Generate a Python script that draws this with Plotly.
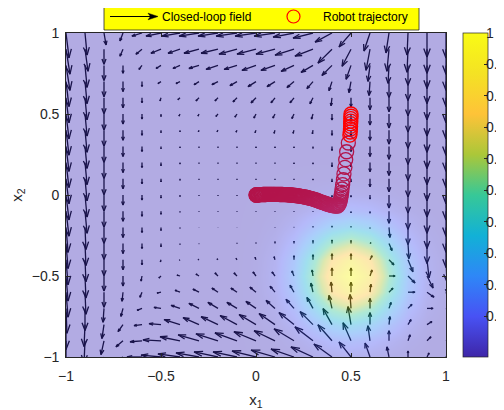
import numpy as np
import plotly.graph_objects as go

# ---------------- data ----------------
grid = [-1.0, -0.9, -0.8, -0.7, -0.6, -0.5, -0.4, -0.3, -0.2, -0.1, 0.0,
        0.1, 0.2, 0.3, 0.4, 0.5, 0.6, 0.7, 0.8, 0.9, 1.0]

# closed-loop field, rows from y=1.0 (top) down to y=-1.0, columns x=-1..1
# (values in hundredths of a data unit, as drawn by the quiver)
U_rows = [
    [1.6, 1.1, 1.1, -1.6, -5.3, -7.9, -9.5, -10.5, -10.5, -11, -11, -11, -11, -10.5, -8.9, -6.3, -3.2, -1.6, -0.5, 0, 0],
    [2.1, 1.6, 0, -1.6, -3.2, -5.3, -6.3, -7.9, -8.9, -9.5, -10, -10, -10, -9.5, -7.4, -4.7, -2.1, -1.1, -0.5, 0, 0],
    [2.1, 1.1, 0, 0, -1.6, -2.6, -3.7, -5.3, -6.3, -6.8, -7.4, -7.4, -6.8, -6.3, -5.3, -2.6, -1.1, -0.5, 0, 0, 0],
    [1.6, 1.1, 0, 0, 0, -1.6, -2.1, -2.6, -3.2, -3.7, -4.2, -4.2, -3.7, -3.2, -1.6, -1.1, -0.5, 0, 0, 0, 0],
    [1.6, 1.1, 0, 0, 0, -0.5, -1.1, -1.6, -1.6, -2.1, -2.6, -2.1, -2.1, -1.6, -0.5, 0, 0, 0, 0, 0, 0],
    [1.6, 1.1, 0, 0, 0, 0, -0.5, -0.5, -1.1, -1.1, -1.1, -1.1, -1.1, -0.8, 0, 0, 0, 0, 0, 0, 0],
    [1.6, 1.1, 0, 0, 0, 0, 0, -0.3, -0.5, -0.5, -0.5, -0.5, -0.5, -0.3, 0, 0, 0, 0, 0, 0, 0],
    [1.6, 1.1, 0, 0, 0, 0, 0, 0, 0, 0, 0, 0, 0, 0, 0, 0, 0, 0, 0, 0, 0],
    [1.6, 1.1, 0, 0, 0, 0, 0, 0, 0, 0, 0, 0, 0, 0, 0, 0, 0, 0, 0, 0, 0],
    [1.6, 1.1, 0, 0, 0, 0, 0, 0, 0, 0, 0, 0, 0, 0, 0, 0, 0, 0, 0, 0, 0],
    [1.6, 1.1, 0, 0, 0, 0, 0, 0, 0, 0, 0, 0, 0, 0, 0, 0, 0, 0, 0, 0, 0],
    [1.6, 1.1, 0, 0, 0, 0, 0, 0, 0, 0, 0, 0, 0, 0, 0, 0, 0, 0, 0, 0, 0],
    [1.1, 0.5, 0, 0, 0, 0, 0, 0, 0, 0, 0, 0, 0, 0, 0, 0, 0, 0.5, 0, 0, 0],
    [1.1, 0.5, 0, 0, 0, 0, 0, 0, 0, 0, 0, 0, 0, 0, 0, 0, 0.5, 1.6, 0.5, 0, 0],
    [1.1, 0.5, 0, 0, 0, -0.3, -0.3, -0.5, -0.5, -0.5, -0.5, -0.5, 0, 0, 0, 0, 1.1, 2.6, 2.6, 1.1, 0.5],
    [1.1, 0.5, 0, 0, -0.5, -1.1, -1.6, -1.6, -1.6, -1.6, -1.6, -1.6, -1.1, -0.5, 0, 0, 1.1, 3.2, 3.7, 3.2, 1.6],
    [1.1, 0.5, 0, -0.5, -1.1, -2.1, -2.6, -3.2, -3.2, -3.2, -3.2, -2.6, -2.1, -1.1, -0.5, 0, 0.5, 2.1, 3.7, 3.7, 2.6],
    [0.5, 0, -0.5, -1.1, -2.6, -3.7, -4.7, -5.3, -5.3, -5.3, -5.3, -4.7, -4.2, -3.2, -1.6, -0.5, 0, 1.1, 2.1, 3.2, 2.6],
    [0, -0.5, -1.1, -2.6, -4.2, -6.3, -8.4, -8.4, -8.9, -8.9, -8.9, -8.4, -7.9, -6.8, -4.7, -1.6, 0, 0.5, 1.6, 2.6, 2.1],
    [0, -0.5, -1.6, -3.7, -6.3, -9.5, -10.5, -11, -11.6, -11.6, -11.6, -11, -10.5, -9.5, -7.4, -4.2, -1.1, 0, 1.1, 2.1, 1.6],
    [0, -1.1, -2.6, -5.3, -7.9, -10.5, -11.6, -12.1, -12.6, -12.6, -12.6, -12.6, -12.1, -11.6, -9.5, -6.3, -2.6, -1.1, 0, 1.1, 1.1],
]
V_rows = [
    [-15.4, -13.6, -7.4, -4.9, -1.9, -1.9, -1.9, -1.9, -1.9, -1.9, -1.9, -1.9, -2.5, -3.1, -5.6, -8.6, -11.1, -12.3, -13.6, -14.8, -15.4],
    [-15.4, -13.6, -9.3, -4.3, -3.1, -2.5, -2.5, -2.5, -2.5, -3.1, -3.1, -3.1, -3.7, -4.3, -8.6, -10.5, -13, -13.6, -14.2, -14.8, -15.4],
    [-15.4, -13.6, -9.3, -4.9, -2.5, -1.9, -1.9, -1.9, -2.5, -2.5, -3.1, -3.1, -3.7, -4.3, -6.2, -8.6, -9.9, -11.1, -12.3, -14.2, -15.4],
    [-15.4, -13.6, -9.3, -6.2, -3.1, -1.2, -1.2, -1.9, -1.9, -2.5, -3.1, -3.1, -3.7, -4.3, -5.6, -6.8, -8.6, -9.9, -11.7, -13.6, -15.4],
    [-15.4, -13.6, -9.9, -6.2, -3.1, -1.9, -1.2, -1.9, -1.9, -2.5, -3.1, -3.1, -3.1, -3.7, -4.9, -5.6, -7.4, -8.6, -11.1, -13.6, -15.4],
    [-15.4, -13.6, -9.9, -6.2, -3.1, -1.5, -1.2, -1.2, -1.5, -1.9, -2.5, -2.5, -2.8, -3.1, -3.7, -4.3, -6.8, -8.6, -11.1, -13.6, -15.4],
    [-15.4, -13.6, -9.9, -6.2, -3.1, -1.5, -0.9, -0.9, -0.9, -1.2, -1.5, -1.9, -1.9, -2.2, -3.1, -3.7, -6.2, -8.6, -11.1, -13.6, -15.4],
    [-15.4, -13.6, -9.9, -6.2, -3.1, -1.5, -0.9, -0.7, -0.7, -0.7, -0.9, -0.9, -0.9, -1.2, -2.5, -3.1, -6.2, -8.0, -11.1, -13.6, -15.4],
    [-15.4, -13.6, -9.9, -6.2, -3.1, -1.9, -0.9, -0.6, -0.6, -0.6, -0.6, -0.6, -0.7, -0.9, -2.5, -2.5, -5.6, -8.0, -11.1, -13.6, -15.4],
    [-15.4, -13.6, -9.9, -6.2, -3.1, -1.9, -0.9, -0.6, -0.6, -0.6, -0.6, -0.6, -0.6, -0.7, -1.9, -1.9, -4.9, -8.0, -11.1, -13.6, -15.4],
    [-15.4, -13.6, -9.9, -6.2, -3.1, -1.9, -0.9, -0.5, -0.5, -0.5, -0.5, -0.5, -0.5, -0.6, -1.2, -1.2, -2.5, -8.0, -11.1, -13.6, -15.4],
    [-15.4, -13.6, -9.9, -6.2, -3.1, -1.9, -0.7, -0.4, -0.4, -0.4, -0.4, -0.4, -0.3, -0.3, -0.9, -0.9, -1.2, -7.4, -11.1, -13.6, -15.4],
    [-15.4, -13.6, -9.9, -6.2, -3.1, -1.9, -0.6, -0.2, -0.2, -0.2, 0, 0.2, 0.3, 0.6, 0.9, 0.6, -0.6, -6.2, -10.5, -13.0, -15.4],
    [-15.4, -13.6, -9.9, -6.2, -3.1, -1.9, -0.6, -0.3, 0, 0.3, 0.6, 1.2, 1.5, 1.9, 2.2, 1.9, 0.6, -4.3, -9.3, -12.3, -14.8],
    [-15.4, -13.6, -9.9, -6.2, -3.1, -1.2, -0.3, 0.3, 0.6, 0.9, 1.5, 1.9, 2.5, 3.1, 3.7, 3.7, 2.5, -3.1, -7.4, -11.1, -13.6],
    [-15.4, -13.6, -9.3, -6.2, -3.1, -1.2, 0.6, 1.2, 1.9, 1.9, 2.5, 2.5, 3.1, 3.7, 4.9, 4.9, 3.7, 0, -4.3, -7.4, -12.3],
    [-15.4, -13.6, -9.3, -5.6, -3.1, -0.6, 1.2, 1.9, 2.5, 2.5, 3.1, 3.7, 4.3, 5.6, 6.2, 6.2, 4.9, 2.5, 0, -3.1, -7.4],
    [-15.4, -13.6, -8.6, -4.9, -1.2, 0.6, 1.9, 3.1, 3.7, 3.7, 4.3, 4.9, 5.6, 6.8, 8.0, 8.6, 6.2, 3.7, 2.5, 0, -3.1],
    [-15.4, -13.6, -8.6, -4.3, -0.6, 0.6, 3.1, 4.3, 4.9, 5.6, 6.2, 6.8, 7.4, 8.0, 9.9, 11.1, 7.4, 4.9, 3.1, 1.9, 0],
    [-15.4, -13.6, -8.6, -3.7, -0.6, 0.6, 2.5, 3.7, 4.3, 4.9, 5.6, 6.2, 7.4, 8.6, 9.9, 11.1, 9.3, 6.2, 3.7, 2.5, 1.2],
    [-15.4, -13.6, -8.0, -3.1, 0, 1.2, 1.9, 2.5, 3.1, 3.1, 3.7, 4.3, 4.9, 6.2, 8.0, 9.3, 8.6, 6.2, 3.7, 2.5, 1.9],
]

# cost map (peak near (0.5,-0.5)); columns x = 0.0..1.0, rows y = -1.0..0.1
blob_x = [0.0, 0.1, 0.2, 0.3, 0.4, 0.5, 0.6, 0.7, 0.8, 0.9, 1.0]
blob_y = [-1.0, -0.9, -0.8, -0.7, -0.6, -0.5, -0.4, -0.3, -0.2, -0.1, 0.0, 0.1]
blob_z = [
    [0.001, 0.003, 0.009, 0.022, 0.037, 0.044, 0.037, 0.022, 0.009, 0.003, 0.001],
    [0.002, 0.009, 0.028, 0.068, 0.114, 0.135, 0.114, 0.068, 0.028, 0.009, 0.002],
    [0.004, 0.020, 0.069, 0.163, 0.273, 0.325, 0.273, 0.163, 0.069, 0.020, 0.004],
    [0.008, 0.038, 0.128, 0.304, 0.510, 0.607, 0.510, 0.304, 0.128, 0.038, 0.008],
    [0.011, 0.056, 0.186, 0.441, 0.742, 0.882, 0.742, 0.441, 0.186, 0.056, 0.011],
    [0.013, 0.063, 0.211, 0.500, 0.841, 1.000, 0.841, 0.500, 0.211, 0.063, 0.013],
    [0.011, 0.056, 0.186, 0.441, 0.742, 0.882, 0.742, 0.441, 0.186, 0.056, 0.011],
    [0.008, 0.038, 0.128, 0.304, 0.510, 0.607, 0.510, 0.304, 0.128, 0.038, 0.008],
    [0.004, 0.020, 0.069, 0.163, 0.273, 0.325, 0.273, 0.163, 0.069, 0.020, 0.004],
    [0.002, 0.009, 0.028, 0.068, 0.114, 0.135, 0.114, 0.068, 0.028, 0.009, 0.002],
    [0.001, 0.003, 0.009, 0.022, 0.037, 0.044, 0.037, 0.022, 0.009, 0.003, 0.001],
    [0.000, 0.001, 0.002, 0.006, 0.009, 0.011, 0.009, 0.006, 0.002, 0.001, 0.000],
]
z_limits = [-0.03, 1.0]

# robot trajectory (start at (0.5, 0.5), converging to the origin)
traj_x = [0.500, 0.500, 0.499, 0.499, 0.498, 0.498, 0.497, 0.496, 0.494,
          0.486, 0.477, 0.472, 0.468, 0.463, 0.460, 0.456, 0.453, 0.451,
          0.449, 0.447, 0.445, 0.443, 0.440, 0.437, 0.434,
          0.430, 0.424, 0.418, 0.412, 0.406, 0.400, 0.394, 0.388, 0.382, 0.376,
          0.370, 0.364, 0.358, 0.352, 0.346, 0.340, 0.334, 0.328, 0.322, 0.316,
          0.310, 0.304, 0.298, 0.292, 0.286, 0.280, 0.274, 0.268, 0.262, 0.256,
          0.250, 0.245, 0.240, 0.235, 0.230, 0.225, 0.220, 0.215, 0.210, 0.205,
          0.200, 0.195, 0.190, 0.185, 0.180, 0.175, 0.170, 0.165, 0.160, 0.155,
          0.150, 0.145, 0.140, 0.135, 0.130, 0.125, 0.120, 0.115, 0.110, 0.105,
          0.100, 0.096, 0.092, 0.088, 0.084, 0.080, 0.076, 0.072, 0.068, 0.064,
          0.060, 0.056, 0.052, 0.048, 0.044, 0.040, 0.036, 0.032, 0.028, 0.024,
          0.020, 0.016, 0.012, 0.009, 0.006, 0.004, 0.002, 0.001, 0.000]
traj_y = [0.500, 0.486, 0.471, 0.456, 0.440, 0.424, 0.407, 0.389, 0.370,
          0.321, 0.267, 0.218, 0.171, 0.130, 0.094, 0.064, 0.037, 0.017,
          0.002, -0.012, -0.025, -0.037, -0.048, -0.058, -0.064,
          -0.068, -0.068, -0.068, -0.067, -0.066, -0.065, -0.063, -0.061, -0.059, -0.056,
          -0.054, -0.052, -0.049, -0.047, -0.044, -0.042, -0.039, -0.036, -0.034, -0.031,
          -0.029, -0.027, -0.024, -0.022, -0.021, -0.019, -0.017, -0.015, -0.014, -0.012,
          -0.011, -0.010, -0.009, -0.008, -0.007, -0.006, -0.005, -0.004, -0.003, -0.003,
          -0.002, -0.001, -0.001, 0.000, 0.000, 0.001, 0.001, 0.001, 0.002, 0.002,
          0.002, 0.002, 0.003, 0.003, 0.003, 0.003, 0.004, 0.004, 0.004, 0.004,
          0.004, 0.004, 0.004, 0.004, 0.004, 0.004, 0.004, 0.004, 0.004, 0.004,
          0.004, 0.004, 0.003, 0.003, 0.003, 0.003, 0.003, 0.002, 0.002, 0.002,
          0.002, 0.001, 0.001, 0.001, 0.000, 0.000, 0.000, 0.000, 0.000]
assert len(traj_x) == len(traj_y)
N_FRONT = 9  # first samples drawn in front of the cost surface

axis_ticks = [-1, -0.5, 0, 0.5, 1]
cbar_ticks = [0.1, 0.2, 0.3, 0.4, 0.5, 0.6, 0.7, 0.8, 0.9, 1.0]
cbar_labels = ["0.1", "0.2", "0.3", "0.4", "0.5", "0.6", "0.7", "0.8", "0.9", "1"]

parula = [[0.000, "#3E26A8"], [0.125, "#4852F4"], [0.250, "#2E87F7"],
          [0.375, "#12B1D6"], [0.500, "#37C897"], [0.625, "#ABC739"],
          [0.750, "#FEC338"], [0.875, "#F4E224"], [1.000, "#F9FB15"]]

# ---------------- build ----------------
gx = np.array(grid)
X, Y = np.meshgrid(gx, gx)
U = np.array(U_rows[::-1]) * 0.01
V = np.array(V_rows[::-1]) * 0.01

ALPHA, BETA = 0.35, 0.33
qx, qy = [], []
for x0, y0, u, v in zip(X.ravel(), Y.ravel(), U.ravel(), V.ravel()):
    if abs(u) + abs(v) < 1e-9:
        continue
    x1, y1 = x0 + u, y0 + v
    qx += [x0, x1, None, x1 - ALPHA * (u + BETA * v), x1, x1 - ALPHA * (u - BETA * v), None]
    qy += [y0, y1, None, y1 - ALPHA * (v - BETA * u), y1, y1 - ALPHA * (v + BETA * u), None]

Z = np.zeros((len(grid), len(grid)))
ix0 = grid.index(blob_x[0])
for r, yv in enumerate(blob_y):
    iy = int(round((yv + 1.0) * 10))
    Z[iy, ix0:ix0 + len(blob_x)] = blob_z[r]

FONT = "Liberation Sans, Arial, Helvetica, sans-serif"
AX = "#262626"

fig = go.Figure()
fig.add_trace(go.Scatter(x=qx, y=qy, mode="lines", line=dict(color="black", width=1.3),
                         hoverinfo="skip", showlegend=False, xaxis="x", yaxis="y",
                         name="Closed-loop field"))
fig.add_trace(go.Scatter(x=traj_x[N_FRONT:], y=traj_y[N_FRONT:], mode="markers",
                         marker=dict(symbol="circle-open", size=14, color="red",
                                     line=dict(width=1.3)),
                         showlegend=False, xaxis="x", yaxis="y", name="Robot trajectory"))
fig.add_trace(go.Heatmap(x=grid, y=grid, z=Z, colorscale=parula,
                         zmin=z_limits[0], zmax=z_limits[1],
                         zsmooth="best", opacity=0.4, xaxis="x2", yaxis="y2",
                         hoverinfo="skip",
                         colorbar=dict(x=1.0447, xanchor="left", y=0.5, yanchor="middle",
                                       len=1, lenmode="fraction", thickness=25,
                                       thicknessmode="pixels", xpad=0, ypad=0,
                                       outlinewidth=0.7, outlinecolor=AX,
                                       tickvals=cbar_ticks, showticklabels=False,
                                       ticks="inside", ticklen=4, tickcolor=AX)))
fig.add_trace(go.Scatter(x=traj_x[:N_FRONT], y=traj_y[:N_FRONT], mode="markers",
                         marker=dict(symbol="circle-open", size=14, color="red",
                                     line=dict(width=1.3)),
                         showlegend=False, xaxis="x2", yaxis="y2", name="Robot trajectory"))

axis_common = dict(range=[-1, 1], tickvals=axis_ticks, ticks="inside", ticklen=4,
                   tickcolor=AX, showline=True, linecolor=AX, linewidth=0.7,
                   mirror="ticks", showgrid=False, zeroline=False,
                   tickfont=dict(family=FONT, size=14, color=AX))
# the page body adds an 8 px offset, so the figure is 8 px smaller than the window
fig.update_layout(
    width=496, height=402,
    margin=dict(l=58, r=58, t=25, b=53, autoexpand=False),
    paper_bgcolor="white", plot_bgcolor="white",
    showlegend=False,
    xaxis=dict(**axis_common, ticklabelstandoff=6,
               title=dict(text="x<sub>1</sub>", standoff=11,
                          font=dict(family=FONT, size=15, color=AX))),
    yaxis=dict(**axis_common, ticklabelstandoff=3,
               title=dict(text="x<sub>2</sub>", standoff=14,
                          font=dict(family=FONT, size=15, color=AX))),
    xaxis2=dict(range=[-1, 1], overlaying="x", visible=False),
    yaxis2=dict(range=[-1, 1], overlaying="y", visible=False),
)

# positions given in window pixels -> paper fractions
def px_x(p):
    return (p - 66) / 380.0

def px_y(p):
    return (357 - p) / 324.0

# colorbar tick labels (cut by the window edge, as in the original)
for v, lab in zip(cbar_ticks, cbar_labels):
    fig.add_annotation(xref="paper", yref="paper", x=px_x(484),
                       y=(v - z_limits[0]) / (z_limits[1] - z_limits[0]),
                       text=lab, showarrow=False, xanchor="left", yanchor="middle",
                       font=dict(family=FONT, size=14, color=AX))

# legend box (MATLAB-style, yellow)
fig.add_shape(type="rect", xref="paper", yref="paper", x0=px_x(104), x1=px_x(419),
              y0=px_y(30), y1=px_y(3), fillcolor="#FFFF00", line=dict(color=AX, width=0.8),
              layer="above")
fig.add_shape(type="line", xref="paper", yref="paper", x0=px_x(110), x1=px_x(151),
              y0=px_y(16.5), y1=px_y(16.5), line=dict(color="black", width=1.1),
              layer="above")
fig.add_shape(type="path", xref="paper", yref="paper", layer="above",
              path="M %.5f,%.5f L %.5f,%.5f L %.5f,%.5f L %.5f,%.5f Z" % (
                  px_x(148), px_y(13.2), px_x(158), px_y(16.5), px_x(148), px_y(19.8),
                  px_x(150.5), px_y(16.5)),
              fillcolor="black", line=dict(color="black", width=0.5))
fig.add_annotation(xref="paper", yref="paper", x=px_x(160), y=px_y(16.5),
                   text="Closed-loop field", showarrow=False, xanchor="left",
                   yanchor="middle", font=dict(family=FONT, size=12, color="black"))
fig.add_shape(type="circle", xref="paper", yref="paper", x0=px_x(287), x1=px_x(300),
              y0=px_y(23), y1=px_y(10), line=dict(color="red", width=1.2), layer="above")
fig.add_annotation(xref="paper", yref="paper", x=px_x(321), y=px_y(16.5),
                   text="Robot trajectory", showarrow=False, xanchor="left",
                   yanchor="middle", font=dict(family=FONT, size=12, color="black"))

fig.write_html("out.html")
